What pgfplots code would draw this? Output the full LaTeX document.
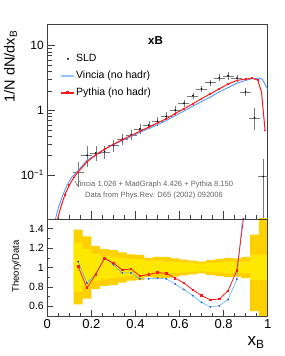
\documentclass[border=0pt]{standalone}
\usepackage{fontspec}
\setmainfont{Liberation Sans}
\usepackage{pgfplots}
\pgfplotsset{compat=1.18}
\usepackage{pgfplotstable}

\definecolor{vincia}{RGB}{80,155,255}
\definecolor{vinciaL}{RGB}{150,195,255}
\definecolor{vinciaR}{RGB}{90,180,250}
\definecolor{vinciaM}{RGB}{40,90,230}
\definecolor{pythia}{RGB}{255,25,25}
\definecolor{bandin}{RGB}{255,232,0}
\definecolor{bandout}{RGB}{255,208,0}
\definecolor{anno}{RGB}{100,100,100}
\definecolor{errc}{RGB}{120,120,120}

\pgfplotsset{
  linelegend/.style={legend image code/.code={\draw[vinciaL, line width=1.4pt] (0pt,0pt) -- (13pt,0pt);}},
  marklinelegend/.style={legend image code/.code={\draw[##1, line width=1.2pt, mark repeat=2, mark phase=2, mark size=0.9pt] plot coordinates {(0pt,0pt) (6.5pt,0pt) (13pt,0pt)};}},
  dotlegend/.style={legend image code/.code={\draw[black, mark=*, mark size=0.7pt] plot coordinates {(6.5pt,0pt)};}},
}

\pgfplotstableread{
x     y      ex    ey
0.14  0.111  0.02  0.043
0.18  0.203  0.02  0.065
0.22  0.220  0.02  0.048
0.26  0.230  0.02  0.044
0.30  0.287  0.02  0.052
0.34  0.361  0.02  0.056
0.38  0.417  0.02  0.056
0.42  0.520  0.02  0.068
0.46  0.593  0.02  0.059
0.50  0.680  0.02  0.074
0.54  0.81   0.02  0.087
0.58  1.01   0.02  0.095
0.62  1.29   0.02  0.10
0.66  1.68   0.02  0.115
0.70  2.16   0.02  0.13
0.74  2.68   0.02  0.20
0.78  3.20   0.02  0.29
0.82  3.42   0.02  0.34
0.86  3.15   0.02  0.28
0.90  1.93   0.02  0.21
0.94  0.77   0.02  0.26
0.98  0.095  0.02  0.075
}\sld

\pgfplotstableread{
x      y
0.03   0.017
0.05   0.031
0.07   0.049
0.09   0.070
0.11   0.092
0.14   0.1175
0.18   0.170
0.22   0.206
0.26   0.252
0.30   0.296
0.34   0.341
0.38   0.394
0.42   0.459
0.46   0.523
0.50   0.601
0.54   0.695
0.58   0.83
0.62   0.975
0.66   1.162
0.70   1.37
0.74   1.606
0.78   1.927
0.82   2.248
0.86   2.63
0.90   2.90
0.93   3.10
0.96   3.15
0.975  3.05
1.00   2.10
}\vin

\pgfplotstableread{
x      y
0.04   0.017
0.06   0.031
0.08   0.050
0.10   0.070
0.12   0.092
0.14   0.112
0.18   0.160
0.22   0.205
0.26   0.252
0.30   0.300
0.34   0.352
0.38   0.41
0.42   0.475
0.46   0.55
0.50   0.64
0.54   0.74
0.58   0.89
0.62   1.06
0.66   1.26
0.70   1.52
0.74   1.80
0.78   2.15
0.82   2.55
0.86   2.90
0.90   3.05
0.93   3.12
0.955  2.95
0.972  1.90
0.988  0.49
}\pyt

\pgfplotstableread{
x     r      v
0.14  1.01   1.06
0.18  0.79   0.84
0.22  0.93   0.935
0.26  1.096  1.096
0.30  1.045  1.03
0.34  0.976  0.945
0.38  0.983  0.945
0.42  0.914  0.883
0.46  0.928  0.883
0.50  0.948  0.89
0.54  0.94   0.883
0.58  0.89   0.83
0.62  0.84   0.773
0.66  0.77   0.71
0.70  0.71   0.64
0.74  0.667  0.595
0.78  0.675  0.605
0.82  0.76   0.67
0.86  0.97   0.88
0.90  1.68   1.87
}\ratio

\begin{document}
\begin{tikzpicture}
\path[use as bounding box] (0,0) rectangle (284pt,356pt);

% ---------------- top panel ----------------
\begin{axis}[
  at={(47.3pt,137pt)}, anchor=south west,
  scale only axis, width=220.4pt, height=195pt,
  xmin=0, xmax=1,
  ymode=log, ymin=0.021, ymax=21.6,
  ytick={0.1,1,10},
  yticklabels={10\textsuperscript{−1},1,10},
  xtick={0,0.2,0.4,0.6,0.8,1}, minor x tick num=3,
  xticklabels={},
  tick pos=left, tick align=inside,
  major tick length=8pt, minor tick length=4.5pt,
  axis line style={black!75, line width=0.6pt},
  every tick/.style={black!75, line width=0.5pt},
  every minor tick/.style={black!75, line width=0.4pt},
  yticklabel style={font=\fontsize{12}{14}\selectfont},
  /pgf/number format/assume math mode=true,
  legend cell align=left,
  legend style={font=\fontsize{10.5}{12}\selectfont, draw=none, fill=none,
    at={(0.06,0.85)}, anchor=north west, row sep=6pt, inner sep=0pt,
    nodes={inner sep=1pt}},
]
\addplot[black, only marks, mark=*, mark size=0.6pt, dotlegend,
  error bars/.cd, x dir=both, y dir=both, x explicit, y explicit,
  error bar style={errc, line width=0.35pt},
  error mark options={errc, mark size=1.1pt, line width=0.35pt}]
  table[x=x, y=y, x error=ex, y error=ey] {\sld};
\addlegendentry{SLD}
\addplot[vincia, line width=0.9pt, linelegend]
  table[x=x, y=y] {\vin};
\addlegendentry{Vincia (no hadr)}
\addplot[pythia, line width=1pt, mark=square*, mark size=0.4pt, marklinelegend]
  table[x=x, y=y] {\pyt};
\addlegendentry{Pythia (no hadr)}
\end{axis}

% ---------------- ratio panel ----------------
\begin{axis}[
  at={(47.3pt,40pt)}, anchor=south west,
  scale only axis, width=220.4pt, height=97pt,
  xmin=0, xmax=1, ymin=0.5, ymax=1.5,
  xtick={0,0.2,0.4,0.6,0.8,1}, minor x tick num=3,
  ytick={0.6,0.8,1,1.2,1.4}, minor y tick num=1,
  tick pos=left, tick align=inside,
  major tick length=5.5pt, minor tick length=3pt,
  axis line style={black!75, line width=0.6pt},
  every tick/.style={black!75, line width=0.5pt},
  every minor tick/.style={black!75, line width=0.4pt},
  xticklabel style={font=\fontsize{13}{15}\selectfont},
  yticklabel style={font=\fontsize{10.5}{12}\selectfont},
  /pgf/number format/assume math mode=true,
  axis on top,
]
% outer (total) uncertainty band
\addplot[fill=bandout, draw=none, forget plot] coordinates {
(0.12,1.39)(0.16,1.39)(0.16,1.32)(0.20,1.32)(0.20,1.22)(0.24,1.22)(0.24,1.19)(0.28,1.19)
(0.28,1.18)(0.32,1.18)(0.32,1.155)(0.36,1.155)(0.36,1.135)(0.40,1.135)(0.40,1.13)(0.44,1.13)
(0.44,1.10)(0.48,1.10)(0.48,1.11)(0.52,1.11)(0.52,1.11)(0.56,1.11)(0.56,1.095)(0.60,1.095)
(0.60,1.08)(0.64,1.08)(0.64,1.07)(0.68,1.07)(0.68,1.06)(0.72,1.06)(0.72,1.075)(0.76,1.075)
(0.76,1.09)(0.80,1.09)(0.80,1.10)(0.84,1.10)(0.84,1.095)(0.88,1.095)(0.88,1.11)(0.92,1.11)
(0.92,1.34)(0.96,1.34)(0.96,1.79)(1.00,1.79)
(1.00,0.21)(0.96,0.21)(0.96,0.55)(0.92,0.55)(0.92,0.89)(0.88,0.89)(0.88,0.905)(0.84,0.905)
(0.84,0.90)(0.80,0.90)(0.80,0.91)(0.76,0.91)(0.76,0.925)(0.72,0.925)(0.72,0.94)(0.68,0.94)
(0.68,0.93)(0.64,0.93)(0.64,0.92)(0.60,0.92)(0.60,0.905)(0.56,0.905)(0.56,0.89)(0.52,0.89)
(0.52,0.89)(0.48,0.89)(0.48,0.90)(0.44,0.90)(0.44,0.87)(0.40,0.87)(0.40,0.865)(0.36,0.865)
(0.36,0.845)(0.32,0.845)(0.32,0.82)(0.28,0.82)(0.28,0.81)(0.24,0.81)(0.24,0.78)(0.20,0.78)
(0.20,0.68)(0.16,0.68)(0.16,0.62)(0.12,0.62)
};
% inner (statistical) uncertainty band
\addplot[fill=bandin, draw=none, forget plot] coordinates {
(0.12,1.26)(0.16,1.26)(0.16,1.19)(0.20,1.19)(0.20,1.14)(0.24,1.14)(0.24,1.12)(0.28,1.12)
(0.28,1.11)(0.32,1.11)(0.32,1.10)(0.36,1.10)(0.36,1.09)(0.40,1.09)(0.40,1.085)(0.44,1.085)
(0.44,1.07)(0.48,1.07)(0.48,1.07)(0.52,1.07)(0.52,1.06)(0.56,1.06)(0.56,1.055)(0.60,1.055)
(0.60,1.05)(0.64,1.05)(0.64,1.045)(0.68,1.045)(0.68,1.04)(0.72,1.04)(0.72,1.045)(0.76,1.045)
(0.76,1.05)(0.80,1.05)(0.80,1.06)(0.84,1.06)(0.84,1.055)(0.88,1.055)(0.88,1.06)(0.92,1.06)
(0.92,1.13)(0.96,1.13)(0.96,1.13)(1.00,1.13)
(1.00,0.87)(0.96,0.87)(0.96,0.87)(0.92,0.87)(0.92,0.94)(0.88,0.94)(0.88,0.945)(0.84,0.945)
(0.84,0.94)(0.80,0.94)(0.80,0.95)(0.76,0.95)(0.76,0.955)(0.72,0.955)(0.72,0.96)(0.68,0.96)
(0.68,0.955)(0.64,0.955)(0.64,0.95)(0.60,0.95)(0.60,0.945)(0.56,0.945)(0.56,0.94)(0.52,0.94)
(0.52,0.93)(0.48,0.93)(0.48,0.93)(0.44,0.93)(0.44,0.915)(0.40,0.915)(0.40,0.91)(0.36,0.91)
(0.36,0.90)(0.32,0.90)(0.32,0.89)(0.28,0.89)(0.28,0.88)(0.24,0.88)(0.24,0.86)(0.20,0.86)
(0.20,0.81)(0.16,0.81)(0.16,0.75)(0.12,0.75)
};
\addplot[vinciaR, line width=0.6pt, mark=*, mark size=0.6pt,
  mark options={vinciaM}] table[x=x, y=v] {\ratio};
\addplot[pythia, line width=0.8pt, mark=square*, mark size=0.75pt] table[x=x, y=r] {\ratio};
\end{axis}

% ---------------- texts ----------------
\node[font=\bfseries\fontsize{11.5}{13}\selectfont] at (155.5pt,315pt) {xB};
\node[font=\fontsize{7.6}{9}\selectfont, text=anno] at (154pt,171.7pt)
  {Vincia 1.026 + MadGraph 4.426 + Pythia 8.150};
\node[font=\fontsize{7.6}{9}\selectfont, text=anno] at (154pt,160pt)
  {Data from Phys.Rev. D65 (2002) 092006};
\node[rotate=90, anchor=east, font=\fontsize{14.5}{16}\selectfont] at (10.5pt,329pt)
  {1/N dN/dx\textsubscript{B}};
\node[rotate=90, font=\fontsize{9.5}{11}\selectfont] at (16.5pt,89.5pt) {Theory/Data};
\node[anchor=east, font=\fontsize{17}{19}\selectfont] at (268pt,13.5pt) {x\textsubscript{B}};
\end{tikzpicture}
\end{document}
